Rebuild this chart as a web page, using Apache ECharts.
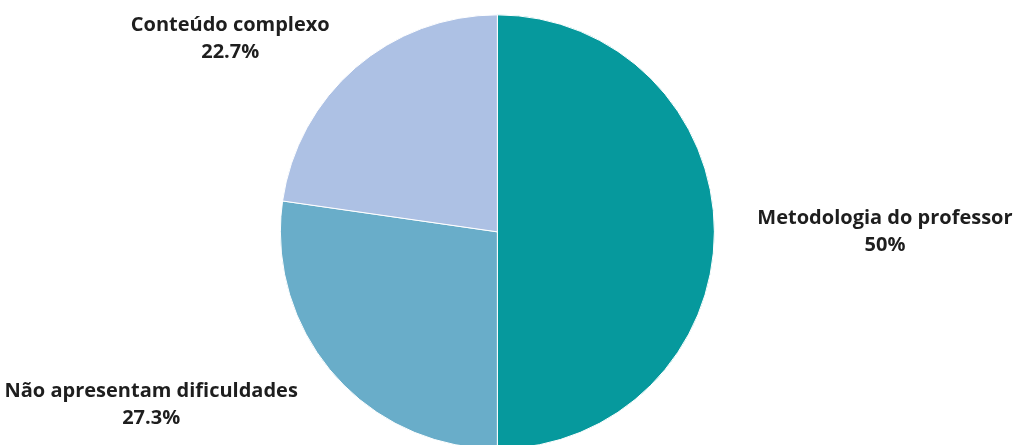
<!DOCTYPE html>
<html lang='pt'>
<head>
  <meta charset='UTF-8'>
  <title>Dificuldades</title>
  <script src="https://cdn.jsdelivr.net/npm/echarts@6/dist/echarts.min.js"></script>
  <style>
    html, body { margin: 0; padding: 0; background: #fff; }
  </style>
</head>
<body>
<div id="main" style="width: 1014px; height: 445px;"></div>
<script>
  // ordem horária a partir do topo
  const categorias = ['Metodologia do professor', 'Não apresentam dificuldades', 'Conteúdo complexo']
  const valores = [11, 6, 5]
  const cores = ['#06999d', '#69adc9', '#adc1e4']
  // comprimento da linha (oculta) de cada rótulo
  const distRotulo = [43, 47, 39]

  const data = categorias.map((name, i) => ({
    name,
    value: valores[i],
    itemStyle: { color: cores[i] },
    labelLine: { length: distRotulo[i], length2: 0 }
  }))

  var myChart = echarts.init(document.getElementById('main'))
  var option = {
    animation: false,
    series: [
      {
        type: 'pie',
        center: ['49.05%', '52.1%'],
        radius: 217,
        startAngle: 90,
        clockwise: true,
        percentPrecision: 1,
        avoidLabelOverlap: false,
        itemStyle: {
          borderColor: '#fff',
          borderWidth: 1
        },
        label: {
          show: true,
          position: 'outside',
          distanceToLabelLine: 0,
          formatter: '{c|{b}}\n{c|{d}%}',
          rich: {
            c: {
              align: 'center',
              fontFamily: 'Open Sans',
              fontWeight: 'bold',
              fontSize: 20,
              lineHeight: 27,
              color: '#1e1e1e'
            }
          }
        },
        labelLine: { show: false },
        data
      }
    ]
  }
  myChart.setOption(option)
</script>
</body>
</html>
